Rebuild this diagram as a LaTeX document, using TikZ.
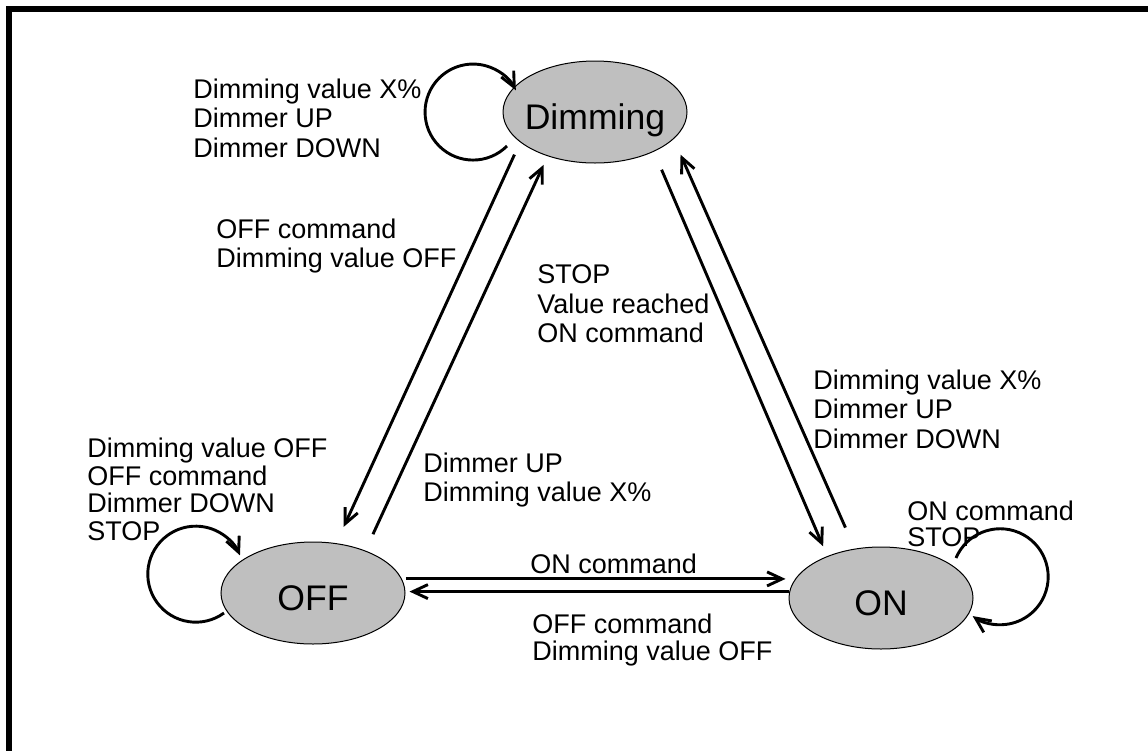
\documentclass[tikz,border=0pt]{standalone}
\usepackage{fontspec}
\setmainfont{Liberation Sans}
\usetikzlibrary{shapes.geometric,arrows.meta}

\begin{document}
\begin{tikzpicture}[x=0.5pt,y=0.5pt]
\tikzstyle{every node}+=[inner sep=0pt]
\tikzstyle{state}=[draw=black, line width=0.5pt, fill=black!25, ellipse, inner xsep=-20pt, minimum width=92pt, minimum height=51pt, text height=17pt, text depth=0pt, font=\fontsize{17.8}{20}\selectfont]
\tikzstyle{trans}=[line width=1.45pt, -{Straight Barb[length=7.5pt,width=7pt]}]
\tikzstyle{lbl}=[anchor=north west, align=left, font=\fontsize{13.5}{14.75}\selectfont]
\useasboundingbox (0,0) rectangle (1148,-751);
\begin{scope}
\clip (0,0) rectangle (1148,-751);
\draw [line width=3pt] (9,-9) rectangle (1180,-780);
\end{scope}
\node [state] (dimming) at (595,-112) {Dimming};
\node [state] (off) at (313,-593) {OFF};
\node [state] (on) at (881,-598) {ON};
\draw [trans, shorten <=6.8pt, shorten >=9pt] (dimming.202) -- (off.65);
\draw [trans, shorten <=9pt, shorten >=4.75pt] (off.39) -- (dimming.223);
\draw [trans, shorten <=9.8pt, shorten >=5.3pt] (dimming.326) -- (on.142);
\draw [trans, shorten <=11.5pt, shorten >=8.5pt] (on.118) -- (dimming.341);
\draw [trans, shorten <=2pt, shorten >=1.5pt] (off.9) -- (off.9 -| on.west);
\draw [trans, shorten >=2pt] (on.176) -- (on.176 -| off.east);
\draw [trans] (dimming.center) ++(-88,-34) arc [start angle=-45, end angle=-333, radius=24pt];
\draw [trans] (off.center) ++(-89,-20) arc [start angle=-54, end angle=-337, radius=24pt];
\draw [trans] (on.center) ++(75,40) arc [start angle=157, end angle=-125, radius=24pt];
\node [lbl] (dimloop) at (193,-78.5) {Dimming value X\%\\Dimmer UP\\Dimmer DOWN};
\node [lbl] (offcmd) at (216,-218.5) {OFF command\\Dimming value OFF};
\node [lbl] (stoplbl) at (537,-264.5) {STOP\\Value reached\\ON command};
\node [lbl] (uplbl) at (423,-452.5) {Dimmer UP\\Dimming value X\%};
\node [lbl] (dimlbl) at (813,-369.5) {Dimming value X\%\\Dimmer UP\\Dimmer DOWN};
\node [lbl, font=\fontsize{13.5}{13.85}\selectfont] (offloop) at (87,-437.5) {Dimming value OFF\\OFF command\\Dimmer DOWN\\STOP};
\node [lbl, font=\fontsize{13.5}{13}\selectfont] (onloop) at (907,-500.5) {ON command\\STOP};
\node [lbl] (oncmd) at (530,-553.5) {ON command};
\node [lbl, font=\fontsize{13.5}{13.5}\selectfont] (offlbl) at (532,-613.5) {OFF command\\Dimming value OFF};
\end{tikzpicture}
\end{document}
